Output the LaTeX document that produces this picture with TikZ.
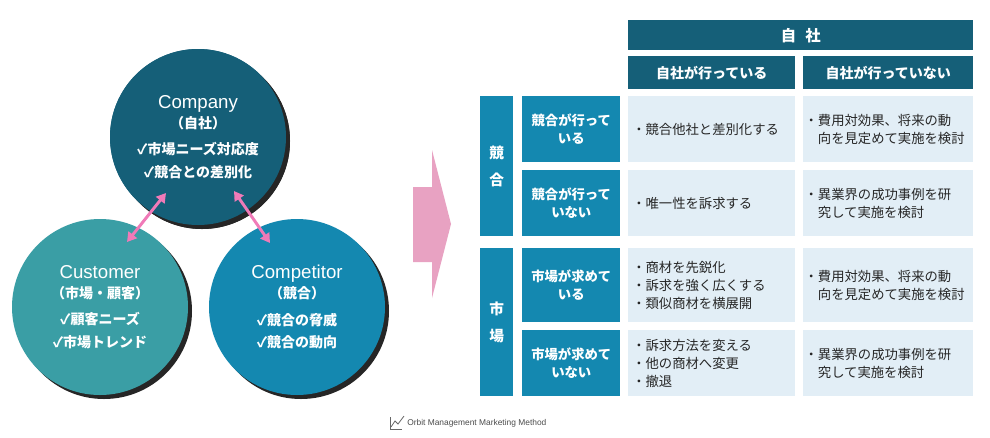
\documentclass[tikz,border=0pt]{standalone}
\usepackage{fontspec}
\setmainfont{Noto Sans CJK JP}
\newfontfamily\latin{Liberation Sans}
\usetikzlibrary{arrows.meta,shadows}
\definecolor{cdark}{HTML}{155F78}
\definecolor{cteal}{HTML}{3A9EA5}
\definecolor{cblue}{HTML}{1488B0}
\definecolor{cpink}{HTML}{F07AB8}
\definecolor{cbig}{HTML}{E8A2C2}
\definecolor{clight}{HTML}{E2EEF6}
\begin{document}
\begin{tikzpicture}[x=0.75pt,y=-0.75pt,
  circ/.style={circle,minimum size=176*0.75pt,inner sep=0pt,
     drop shadow={shadow xshift=3pt,shadow yshift=-3pt,fill=black!85,opacity=1}},
  ctext/.style={text=white,align=center,font=\bfseries\fontsize{10.5}{17}\selectfont},
  pk/.style={draw=cpink,line width=2.2pt,{Triangle[length=7pt,width=8pt]}-{Triangle[length=7pt,width=8pt]}},
  hdr/.style={fill=cdark,text=white,font=\bfseries\fontsize{10.5}{12}\selectfont,inner sep=0pt},
  lab/.style={fill=cblue,text=white,font=\bfseries\fontsize{10}{13.5}\selectfont,align=center,inner sep=0pt},
  cell/.style={fill=clight,text=black!85,font=\fontsize{10}{13.5}\selectfont,align=left,inner sep=0pt}]
\useasboundingbox[fill=white] (0,0) rectangle (990,437);
\node[circ,fill=cdark] (co) at (198,137) {};
\node[circ,fill=cteal] (cu) at (100,307) {};
\node[circ,fill=cblue] (cp) at (297,307) {};
\node[circ,fill=cdark,drop shadow={opacity=0}] at (198,137) {};
\node[ctext] at (198,137) {{\mdseries\latin\fontsize{14}{14}\selectfont Company}\\[-2pt]（自社）\\[3pt]✓市場ニーズ対応度\\✓競合との差別化};
\node[ctext] at (100,307) {{\mdseries\latin\fontsize{14}{14}\selectfont Customer}\\[-2pt]（市場・顧客）\\[3pt]✓顧客ニーズ\\✓市場トレンド};
\node[ctext] at (297,307) {{\mdseries\latin\fontsize{14}{14}\selectfont Competitor}\\[-2pt]（競合）\\[3pt]✓競合の脅威\\✓競合の動向};
\coordinate (a1) at (166,193); \coordinate (b1) at (127,242);
\coordinate (a2) at (234,191); \coordinate (b2) at (270,243);
\draw[pk] (a1) -- (b1);
\draw[pk] (a2) -- (b2);
\fill[cbig] (413,187) -- (432,187) -- (432,150) -- (451,224) -- (432,298) -- (432,262) -- (413,262) -- cycle;
% table
\node[hdr,minimum width=345*0.75pt,minimum height=30*0.75pt,anchor=north west,font=\bfseries\fontsize{11.5}{12}\selectfont] (h0) at (628,20) {自\hspace{0.6em}社};
\node[hdr,minimum width=167*0.75pt,minimum height=33*0.75pt,anchor=north west] (h1) at (628,56) {自社が行っている};
\node[hdr,minimum width=170*0.75pt,minimum height=33*0.75pt,anchor=north west] (h2) at (803,56) {自社が行っていない};
\node[lab,minimum width=33*0.75pt,minimum height=140*0.75pt,anchor=north west,font=\bfseries\fontsize{11}{20}\selectfont] (s1) at (480,96) {競\\合};
\node[lab,minimum width=33*0.75pt,minimum height=148*0.75pt,anchor=north west,font=\bfseries\fontsize{11}{20}\selectfont] (s2) at (480,248) {市\\場};
\foreach \y/\h/\t [count=\i] in {96/66/競合が行って\\いる, 170/66/競合が行って\\いない, 248/74/市場が求めて\\いる, 330/66/市場が求めて\\いない}
  \node[lab,minimum width=98*0.75pt,minimum height=\h*0.75pt,anchor=north west] (r\i) at (522,\y) {\t};
\foreach \y/\h [count=\i] in {96/66, 170/66, 248/74, 330/66}{
  \node[cell,minimum width=167*0.75pt,minimum height=\h*0.75pt,anchor=north west] (c\i a) at (628,\y) {};
  \node[cell,minimum width=170*0.75pt,minimum height=\h*0.75pt,anchor=north west] (c\i b) at (803,\y) {};}
\node[cell,fill=none,anchor=west] at (c1a.west) {\hspace{3pt}・競合他社と差別化する};
\node[cell,fill=none,anchor=west] at (c2a.west) {\hspace{3pt}・唯一性を訴求する};
\node[cell,fill=none,anchor=west] at (c3a.west) {\hspace{3pt}・商材を先鋭化\\\hspace{3pt}・訴求を強く広くする\\\hspace{3pt}・類似商材を横展開};
\node[cell,fill=none,anchor=west] at (c4a.west) {\hspace{3pt}・訴求方法を変える\\\hspace{3pt}・他の商材へ変更\\\hspace{3pt}・撤退};
\node[cell,fill=none,anchor=west] at (c1b.west) {\hspace{1pt}・費用対効果、将来の動\\\hspace{1pt}\hphantom{・}向を見定めて実施を検討};
\node[cell,fill=none,anchor=west] at (c2b.west) {\hspace{1pt}・異業界の成功事例を研\\\hspace{1pt}\hphantom{・}究して実施を検討};
\node[cell,fill=none,anchor=west] at (c3b.west) {\hspace{1pt}・費用対効果、将来の動\\\hspace{1pt}\hphantom{・}向を見定めて実施を検討};
\node[cell,fill=none,anchor=west] at (c4b.west) {\hspace{1pt}・異業界の成功事例を研\\\hspace{1pt}\hphantom{・}究して実施を検討};
% footer
\draw[black!60,line width=0.5pt] (390,417) -- (390,429) -- (402,429);
\draw[black!60,line width=0.6pt] (391,427) -- (395,421) -- (398,424) -- (404,416);
\node[anchor=west,font=\latin\fontsize{6.3}{7}\selectfont,text=black!70,inner sep=0pt] (ft) at (407,423) {Orbit Management Marketing Method};
\end{tikzpicture}
\end{document}
